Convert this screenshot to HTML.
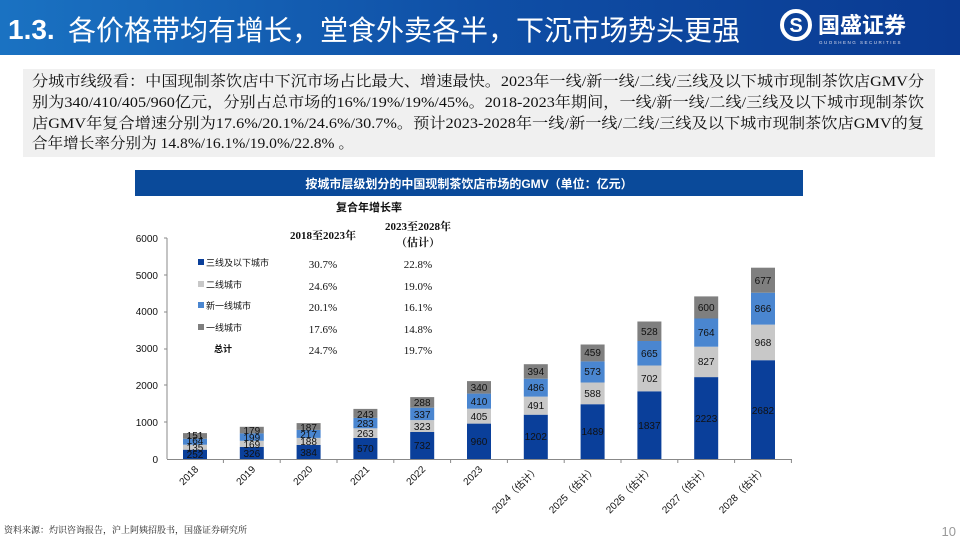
<!DOCTYPE html>
<html><head><meta charset="utf-8"><style>
body{margin:0;width:960px;height:540px;overflow:hidden;background:#fff;}
svg{display:block}
</style></head><body>
<svg width="960" height="540" xmlns="http://www.w3.org/2000/svg" font-family="Liberation Sans, Noto Sans CJK SC, sans-serif">
<defs>
<linearGradient id="hg" x1="0" x2="1" y1="0" y2="0">
<stop offset="0" stop-color="#1a72c2"/><stop offset="0.5" stop-color="#0f4fa6"/><stop offset="1" stop-color="#0a3a92"/>
</linearGradient>
</defs>
<rect x="0" y="0" width="960" height="55" fill="url(#hg)"/>
<text x="8" y="39" font-size="28" font-weight="bold" fill="#fff">1.3.</text>
<text x="68" y="40" font-size="28" fill="#fff" textLength="672" lengthAdjust="spacingAndGlyphs" font-family="Liberation Sans, Noto Sans CJK SC, sans-serif">各价格带均有增长，堂食外卖各半，下沉市场势头更强</text>
<circle cx="796" cy="25" r="14" fill="none" stroke="#fff" stroke-width="4"/>
<text x="796" y="32" font-size="20" font-weight="bold" fill="#fff" text-anchor="middle">S</text>
<text x="818" y="33" font-size="22" font-weight="bold" fill="#fff" font-family="Noto Sans CJK SC, sans-serif">国盛证券</text>
<text x="819" y="44" font-size="4.5" fill="#dde" letter-spacing="1.5">GUOSHENG SECURITIES</text>

<rect x="23" y="69" width="912" height="88" fill="#f0f0f0"/>
<g font-family="Liberation Serif, Noto Serif CJK SC, serif" font-size="15" fill="#111">
<text x="32" y="86" textLength="892" lengthAdjust="spacingAndGlyphs">分城市线级看：中国现制茶饮店中下沉市场占比最大、增速最快。2023年一线/新一线/二线/三线及以下城市现制茶饮店GMV分</text>
<text x="32" y="107" textLength="892" lengthAdjust="spacingAndGlyphs">别为340/410/405/960亿元，分别占总市场的16%/19%/19%/45%。2018-2023年期间，一线/新一线/二线/三线及以下城市现制茶饮</text>
<text x="32" y="128" textLength="892" lengthAdjust="spacingAndGlyphs">店GMV年复合增速分别为17.6%/20.1%/24.6%/30.7%。预计2023-2028年一线/新一线/二线/三线及以下城市现制茶饮店GMV的复</text>
<text x="32" y="148" textLength="322" lengthAdjust="spacingAndGlyphs">合年增长率分别为 14.8%/16.1%/19.0%/22.8% 。</text>
</g>

<rect x="135" y="170" width="668" height="26" fill="#0a4a9a"/>
<text x="469" y="188" font-size="12" font-weight="bold" fill="#fff" text-anchor="middle">按城市层级划分的中国现制茶饮店市场的GMV（单位：亿元）</text>
<text x="369" y="211" font-size="11" font-weight="bold" fill="#111" text-anchor="middle">复合年增长率</text>
<g font-family="Liberation Serif, Noto Serif CJK SC, serif" font-size="11" fill="#111" text-anchor="middle">
<text x="323" y="239" font-weight="bold">2018至2023年</text>
<text x="418" y="230" font-weight="bold">2023至2028年</text>
<text x="418" y="246" font-weight="bold">（估计）</text>
<text x="323" y="268">30.7%</text><text x="418" y="268">22.8%</text>
<text x="323" y="290">24.6%</text><text x="418" y="290">19.0%</text>
<text x="323" y="311">20.1%</text><text x="418" y="311">16.1%</text>
<text x="323" y="333">17.6%</text><text x="418" y="333">14.8%</text>
<text x="323" y="354">24.7%</text><text x="418" y="354">19.7%</text>
</g>
<g font-size="9" fill="#111">
<rect x="198" y="259" width="6" height="6" fill="#0a3f9a"/><text x="206" y="266">三线及以下城市</text>
<rect x="198" y="281" width="6" height="6" fill="#c8c8c8"/><text x="206" y="288">二线城市</text>
<rect x="198" y="302" width="6" height="6" fill="#4a86d0"/><text x="206" y="309">新一线城市</text>
<rect x="198" y="324" width="6" height="6" fill="#7f7f7f"/><text x="206" y="331">一线城市</text>
<text x="214" y="352" font-weight="bold">总计</text>
</g>

<g font-size="10" fill="#111" text-anchor="end">
<text x="158" y="463">0</text><text x="158" y="426">1000</text><text x="158" y="389">2000</text>
<text x="158" y="352">3000</text><text x="158" y="315">4000</text><text x="158" y="279">5000</text><text x="158" y="242">6000</text>
</g>
<line x1="167" y1="238" x2="167" y2="459" stroke="#888"/>
<line x1="167" y1="459.5" x2="792" y2="459.5" stroke="#888"/>
<g stroke="#888">
<line x1="164" y1="238" x2="167" y2="238"/><line x1="164" y1="275" x2="167" y2="275"/><line x1="164" y1="312" x2="167" y2="312"/><line x1="164" y1="349" x2="167" y2="349"/><line x1="164" y1="385" x2="167" y2="385"/><line x1="164" y1="422" x2="167" y2="422"/>
<line x1="223.4" y1="459" x2="223.4" y2="463"/><line x1="280.2" y1="459" x2="280.2" y2="463"/><line x1="337" y1="459" x2="337" y2="463"/><line x1="393.8" y1="459" x2="393.8" y2="463"/><line x1="450.6" y1="459" x2="450.6" y2="463"/><line x1="507.4" y1="459" x2="507.4" y2="463"/><line x1="564.2" y1="459" x2="564.2" y2="463"/><line x1="621" y1="459" x2="621" y2="463"/><line x1="677.8" y1="459" x2="677.8" y2="463"/><line x1="734.6" y1="459" x2="734.6" y2="463"/><line x1="791.4" y1="459" x2="791.4" y2="463"/>
</g>

<g>
<rect x="183" y="449.7" width="24" height="9.3" fill="#0a3f9a"/><rect x="183" y="444.7" width="24" height="5" fill="#c8c8c8"/><rect x="183" y="438.7" width="24" height="6" fill="#4a86d0"/><rect x="183" y="433.1" width="24" height="5.6" fill="#7f7f7f"/>
<rect x="239.8" y="447" width="24" height="12" fill="#0a3f9a"/><rect x="239.8" y="440.8" width="24" height="6.2" fill="#c8c8c8"/><rect x="239.8" y="433.4" width="24" height="7.4" fill="#4a86d0"/><rect x="239.8" y="426.8" width="24" height="6.6" fill="#7f7f7f"/>
<rect x="296.6" y="444.9" width="24" height="14.1" fill="#0a3f9a"/><rect x="296.6" y="437.9" width="24" height="7" fill="#c8c8c8"/><rect x="296.6" y="429.9" width="24" height="8" fill="#4a86d0"/><rect x="296.6" y="423.1" width="24" height="6.8" fill="#7f7f7f"/>
<rect x="353.4" y="438" width="24" height="21" fill="#0a3f9a"/><rect x="353.4" y="428.3" width="24" height="9.7" fill="#c8c8c8"/><rect x="353.4" y="417.9" width="24" height="10.4" fill="#4a86d0"/><rect x="353.4" y="408.9" width="24" height="9" fill="#7f7f7f"/>
<rect x="410.2" y="432" width="24" height="27" fill="#0a3f9a"/><rect x="410.2" y="420.1" width="24" height="11.9" fill="#c8c8c8"/><rect x="410.2" y="407.7" width="24" height="12.4" fill="#4a86d0"/><rect x="410.2" y="397.1" width="24" height="10.6" fill="#7f7f7f"/>
<rect x="467" y="423.6" width="24" height="35.4" fill="#0a3f9a"/><rect x="467" y="408.7" width="24" height="14.9" fill="#c8c8c8"/><rect x="467" y="393.6" width="24" height="15.1" fill="#4a86d0"/><rect x="467" y="381.1" width="24" height="12.5" fill="#7f7f7f"/>
<rect x="523.8" y="414.7" width="24" height="44.3" fill="#0a3f9a"/><rect x="523.8" y="396.6" width="24" height="18.1" fill="#c8c8c8"/><rect x="523.8" y="378.7" width="24" height="17.9" fill="#4a86d0"/><rect x="523.8" y="364.2" width="24" height="14.5" fill="#7f7f7f"/>
<rect x="580.6" y="404.2" width="24" height="54.8" fill="#0a3f9a"/><rect x="580.6" y="382.5" width="24" height="21.7" fill="#c8c8c8"/><rect x="580.6" y="361.4" width="24" height="21.1" fill="#4a86d0"/><rect x="580.6" y="344.5" width="24" height="16.9" fill="#7f7f7f"/>
<rect x="637.4" y="391.3" width="24" height="67.7" fill="#0a3f9a"/><rect x="637.4" y="365.5" width="24" height="25.8" fill="#c8c8c8"/><rect x="637.4" y="341" width="24" height="24.5" fill="#4a86d0"/><rect x="637.4" y="321.5" width="24" height="19.5" fill="#7f7f7f"/>
<rect x="694.2" y="377.1" width="24" height="81.9" fill="#0a3f9a"/><rect x="694.2" y="346.7" width="24" height="30.4" fill="#c8c8c8"/><rect x="694.2" y="318.5" width="24" height="28.2" fill="#4a86d0"/><rect x="694.2" y="296.4" width="24" height="22.1" fill="#7f7f7f"/>
<rect x="751" y="360.2" width="24" height="98.8" fill="#0a3f9a"/><rect x="751" y="324.6" width="24" height="35.6" fill="#c8c8c8"/><rect x="751" y="292.7" width="24" height="31.9" fill="#4a86d0"/><rect x="751" y="267.7" width="24" height="25" fill="#7f7f7f"/>
</g>

<g font-size="10" fill="#111" text-anchor="middle">
<text x="195" y="458">252</text><text x="195" y="451">135</text><text x="195" y="444">164</text><text x="195" y="439">151</text>
<text x="251.8" y="457">326</text><text x="251.8" y="448">169</text><text x="251.8" y="441">199</text><text x="251.8" y="434">179</text>
<text x="308.6" y="456">384</text><text x="308.6" y="445">188</text><text x="308.6" y="438">217</text><text x="308.6" y="431">187</text>
<text x="365.4" y="452">570</text><text x="365.4" y="437">263</text><text x="365.4" y="427">283</text><text x="365.4" y="418">243</text>
<text x="422.2" y="449">732</text><text x="422.2" y="430">323</text><text x="422.2" y="418">337</text><text x="422.2" y="406">288</text>
<text x="479" y="445">960</text><text x="479" y="420">405</text><text x="479" y="405">410</text><text x="479" y="391">340</text>
<text x="535.8" y="440">1202</text><text x="535.8" y="409">491</text><text x="535.8" y="391">486</text><text x="535.8" y="375">394</text>
<text x="592.6" y="435">1489</text><text x="592.6" y="397">588</text><text x="592.6" y="375">573</text><text x="592.6" y="356">459</text>
<text x="649.4" y="429">1837</text><text x="649.4" y="382">702</text><text x="649.4" y="357">665</text><text x="649.4" y="335">528</text>
<text x="706.2" y="422">2223</text><text x="706.2" y="365">827</text><text x="706.2" y="336">764</text><text x="706.2" y="311">600</text>
<text x="763" y="414">2682</text><text x="763" y="346">968</text><text x="763" y="312">866</text><text x="763" y="284">677</text>
</g>

<g font-size="10" fill="#111" text-anchor="end">
<text transform="translate(199,470) rotate(-45)">2018</text>
<text transform="translate(256,470) rotate(-45)">2019</text>
<text transform="translate(313,470) rotate(-45)">2020</text>
<text transform="translate(370,470) rotate(-45)">2021</text>
<text transform="translate(426,470) rotate(-45)">2022</text>
<text transform="translate(483,470) rotate(-45)">2023</text>
<text transform="translate(540,470) rotate(-45)">2024（估计）</text>
<text transform="translate(597,470) rotate(-45)">2025（估计）</text>
<text transform="translate(654,470) rotate(-45)">2026（估计）</text>
<text transform="translate(710,470) rotate(-45)">2027（估计）</text>
<text transform="translate(767,470) rotate(-45)">2028（估计）</text>
</g>

<text x="4" y="533" font-size="9" fill="#222" font-family="Liberation Serif, Noto Serif CJK SC, serif">资料来源：灼识咨询报告，沪上阿姨招股书，国盛证券研究所</text>
<text x="956" y="536" font-size="13" fill="#999" text-anchor="end">10</text>
</svg>
</body></html>
